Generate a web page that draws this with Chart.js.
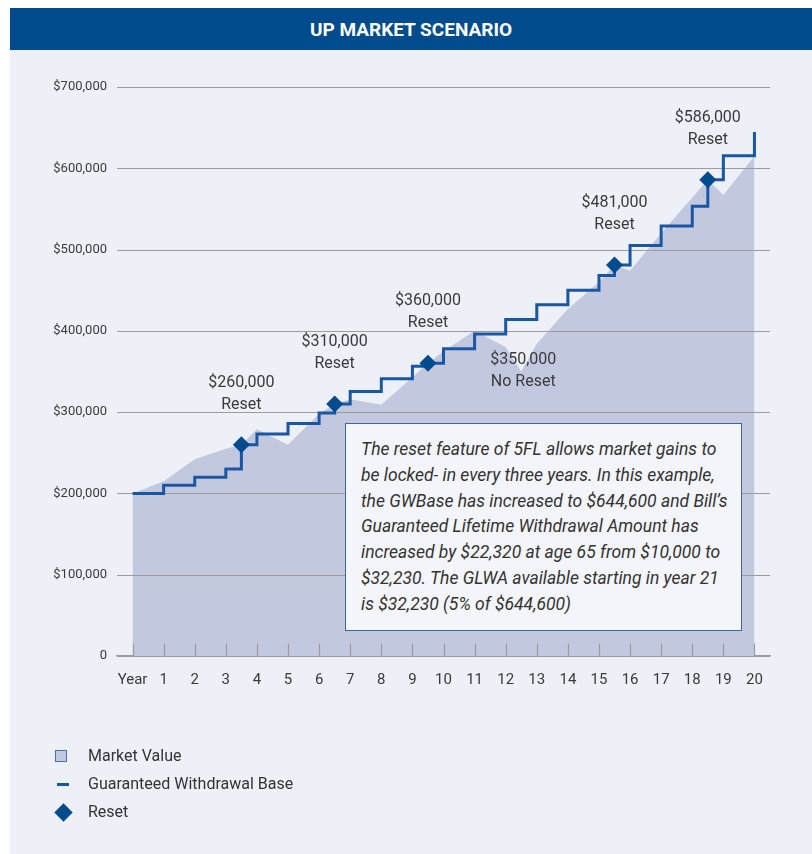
<!DOCTYPE html>
<html><head><meta charset="utf-8">
<script src="https://cdn.jsdelivr.net/npm/chart.js@4/dist/chart.umd.min.js"></script>
<style>
html,body{margin:0;padding:0;background:#fff;width:812px;height:854px;overflow:hidden;font-family:'Liberation Sans Narrow','Roboto',sans-serif;}
#title{position:absolute;left:10px;top:8px;width:802px;height:42px;background:#004B8D;color:#fff;font-weight:bold;font-size:19px;line-height:44px;text-align:center;}
#panel{position:absolute;left:10px;top:50px;width:802px;height:804px;background:#EDF0F7;}
#wrap{position:absolute;left:0;top:0;width:812px;height:854px;}
#note{position:absolute;left:345px;top:423px;width:397px;height:208px;box-sizing:border-box;border:1.5px solid #3A66A8;background:#F4F5FA;padding:13px 0 0 15px;font-style:italic;font-size:17.5px;line-height:25.8px;color:#333;white-space:nowrap;}
.li{position:absolute;left:88px;font-size:16px;color:#333;line-height:20px;}
</style></head>
<body>
<div id="title">UP MARKET SCENARIO</div>
<div id="panel"></div>
<div id="wrap"><canvas id="c" width="812" height="854"></canvas></div>
<div id="note">The reset feature of 5FL allows market gains to<br>be locked- in every three years. In this example,<br>the GWBase has increased to $644,600 and Bill’s<br>Guaranteed Lifetime Withdrawal Amount has<br>increased by $22,320 at age 65 from $10,000 to<br>$32,230. The GLWA available starting in year 21<br>is $32,230 (5% of $644,600)</div>
<div style="position:absolute;left:55px;top:750px;width:12px;height:12px;box-sizing:border-box;background:#C3C8E1;border:1.5px solid #4A72B0;"></div>
<div class="li" style="top:746px;">Market Value</div>
<div style="position:absolute;left:57px;top:783px;width:12px;height:3px;background:#1A57A3;"></div>
<div class="li" style="top:774px;">Guaranteed Withdrawal Base</div>
<div style="position:absolute;left:56.5px;top:805.5px;width:13px;height:13px;background:#004B8D;transform:rotate(45deg);"></div>
<div class="li" style="top:802px;">Reset</div>
<script>
// ---- data ----
const xTickValues = [0,1,2,3,4,5,6,7,8,9,10,11,12,13,14,15,16,17,18,19,20];
const xTickLabels = ['Year','1','2','3','4','5','6','7','8','9','10','11','12','13','14','15','16','17','18','19','20'];
const marketYears  = [0,1,2,3,3.5,4,5,6,6.5,7,8,9,9.5,10,11,12,12.5,13,14,15,15.5,16,17,18,18.5,19,20];
const marketValues = [200000,215000,242000,255000,260000,279000,260000,298000,310000,316000,309000,343000,360000,375000,400000,380000,350000,384000,427000,460000,481000,474000,520000,564000,586000,567000,615000];
const gwbYears  = [0,1,2,3,3.5,4,5,6,6.5,7,8,9,9.5,10,11,12,13,14,15,15.5,16,17,18,18.5,19,20];
const gwbValues = [200000,210000,220000,230000,260000,273000,286000,299000,310000,325500,341000,356500,360000,378000,396000,414000,432000,450000,468000,481000,505050,529100,553150,586000,615300,644600];
const resetYears  = [3.5,6.5,9.5,12.5,15.5,18.5];
const resetValues = [260000,310000,360000,350000,481000,586000];
const resetNotes  = ['Reset','Reset','Reset','No Reset','Reset','Reset'];

const FONT = "'Liberation Sans Narrow','Roboto',sans-serif";
const fmt = v => v === 0 ? '0' : '$' + v.toLocaleString('en-US');

const marketPts = marketYears.map((x,i)=>({x, y: marketValues[i]}));
const gwbPts = gwbYears.map((x,i)=>({x, y: gwbValues[i]}));
const diamondPts = resetYears.map((x,i)=>({x, y: resetValues[i], note: resetNotes[i]})).filter(p=>p.note==='Reset');

const overlay = {
  id:'overlay',
  afterDatasetDraw(chart, args){
    if(args.index!==0) return;
    const {ctx, chartArea:a, scales:{x,y}} = chart;
    ctx.save();
    ctx.strokeStyle='#9c9c9c'; ctx.lineWidth=1.2;
    y.ticks.forEach(t=>{ const py=Math.round(y.getPixelForValue(t.value))+0.5; ctx.beginPath(); ctx.moveTo(a.left,py); ctx.lineTo(a.right,py); ctx.stroke();});
    const base = Math.round(y.getPixelForValue(0))+0.5;
    x.ticks.forEach(t=>{ const px=Math.round(x.getPixelForValue(t.value))+0.5; ctx.beginPath(); ctx.moveTo(px,base); ctx.lineTo(px,base-13); ctx.stroke();});
    ctx.restore();
  },
  afterDatasetsDraw(chart){
    const {ctx, scales:{x,y}} = chart;
    ctx.save();
    ctx.font = "16px " + FONT;
    ctx.fillStyle = '#3a3a3a';
    ctx.textAlign='center'; ctx.textBaseline='middle';
    resetYears.forEach((rx,i)=>{
      const px = x.getPixelForValue(rx), py = y.getPixelForValue(resetValues[i]);
      if(resetNotes[i]==='Reset'){
        ctx.fillText(fmt(resetValues[i]), px, py-62);
        ctx.fillText(resetNotes[i], px, py-40);
      } else {
        ctx.fillText(fmt(resetValues[i]), px+2, py-12);
        ctx.fillText(resetNotes[i], px+2, py+10);
      }
    });
    ctx.restore();
  }
};

new Chart(document.getElementById('c'), {
  data: {
    datasets: [
      {type:'line', label:'Market Value', data: marketPts, order:3, fill:'origin', backgroundColor:'#C3C8E1', borderWidth:0, pointRadius:0, tension:0},
      {type:'line', label:'Guaranteed Withdrawal Base', data: gwbPts, order:2, fill:false, stepped:true, borderColor:'#1A57A3', borderWidth:3, pointRadius:0, borderJoinStyle:'miter'},
      {type:'scatter', label:'Reset', data: diamondPts, order:1, pointStyle:'rectRot', pointRadius:8.5, backgroundColor:'#004B8D', borderWidth:0}
    ]
  },
  options: {
    responsive:false, animation:false,
    layout:{padding:{left:10, right:42, top:87, bottom:158}},
    plugins:{legend:{display:false}, tooltip:{enabled:false}},
    scales:{
      x:{type:'linear', min:-0.5, max:20.5,
        grid:{display:false}, border:{display:true, color:'#9c9c9c', width:1.2},
        afterBuildTicks: s => { s.ticks = xTickValues.map(v=>({value:v})); },
        afterFit: s => { s.height = 40; },
        ticks:{padding:7, autoSkip:false, maxRotation:0, color:'#3a3a3a', font:{family:FONT, size:15},
          callback: (v) => { const i = xTickValues.indexOf(v); return i>=0 ? xTickLabels[i] : ''; }}
      },
      y:{type:'linear', min:0, max:700000,
        grid:{display:false, drawTicks:false}, border:{display:false},
        afterFit: s => { s.width = 107; },
        ticks:{stepSize:100000, padding:10, color:'#3a3a3a', font:{family:FONT, size:13}, callback: v => fmt(v)}
      }
    }
  },
  plugins:[overlay]
});
</script>
</body></html>
